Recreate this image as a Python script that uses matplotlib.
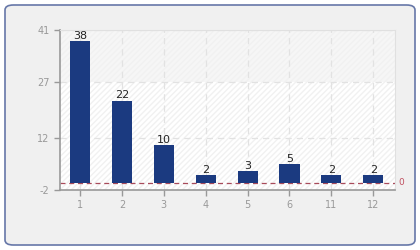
import matplotlib
matplotlib.use("Agg")
import matplotlib.pyplot as plt
from matplotlib.patches import FancyBboxPatch, Rectangle

plt.rcParams["axes.unicode_minus"] = False

# data
categories = ["1", "2", "3", "4", "5", "6", "11", "12"]
values = [38, 22, 10, 2, 3, 5, 2, 2]
yticks = [-2, 12, 27, 41]
baseline = 0

BAR_COLOR = "#1b3a80"
TICK_COLOR = "#999999"
GRID_COLOR = "#e2e2e2"

fig = plt.figure(figsize=(4.2, 2.5), dpi=100)
fig.patch.set_facecolor("white")

# outer rounded frame
frame = FancyBboxPatch((5 / 420, 5 / 250), 410 / 420, 240 / 250,
                       boxstyle="round,pad=0,rounding_size=0.02",
                       transform=fig.transFigure, facecolor="#f0f0f0",
                       edgecolor="#6677a8", linewidth=1.2, zorder=-10)
fig.patches.append(frame)

ax = fig.add_axes([60 / 420, 60 / 250, 335 / 420, 160 / 250])
ax.set_zorder(5)
ax.set_facecolor("white")
x = list(range(len(categories)))

ax.set_xlim(-0.48, len(categories) - 0.48)
ax.set_ylim(yticks[0], yticks[-1])

# background bands with faint hatching
ax.axhspan(yticks[2], yticks[3], color="#f6f6f6", zorder=0, lw=0)
ax.add_patch(Rectangle((-0.48, yticks[0]), len(categories), yticks[-1] - yticks[0],
                       facecolor="none", edgecolor="#f1f1f1", hatch="//////",
                       linewidth=0, zorder=0.5))

# grid
for yt in yticks[1:]:
    ax.axhline(yt, color=GRID_COLOR, linestyle=(0, (5, 4)), linewidth=0.9, zorder=1)
for xi in x:
    ax.axvline(xi, color=GRID_COLOR, linestyle=(0, (5, 4)), linewidth=0.9, zorder=1)

ax.bar(x, values, width=0.48, color=BAR_COLOR, zorder=3)
for xi, v in zip(x, values):
    ax.text(xi, v + 0.1, str(v), ha="center", va="bottom", fontsize=8,
            color="#222222", zorder=4)

# baseline
ax.axhline(baseline, color="#a84a5a", linestyle=(0, (4, 3)), linewidth=0.9, zorder=2)
ax.text(len(categories) - 0.4, baseline, "0", color="#c05060", fontsize=6.5,
        va="center", ha="left", clip_on=False)

ax.set_xticks(x)
ax.set_xticklabels(categories)
ax.set_yticks(yticks)
ax.tick_params(axis="both", colors=TICK_COLOR, labelsize=7, length=4,
               direction="out", width=1)
ax.tick_params(axis="x", pad=3)
for side in ("left", "bottom"):
    ax.spines[side].set_color("#999999")
    ax.spines[side].set_linewidth(1.2)
for side in ("top", "right"):
    ax.spines[side].set_color("#e0e0e0")

plt.savefig("out.png", dpi=100)
